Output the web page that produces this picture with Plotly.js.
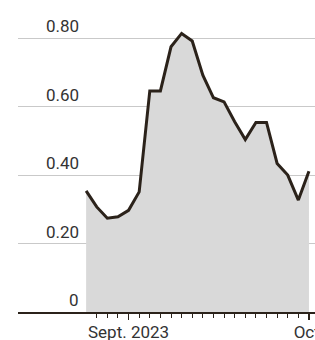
<!DOCTYPE html>
<html>
<head>
<meta charset="utf-8">
<script src="https://cdn.plot.ly/plotly-3.0.1.min.js"></script>
<style>
html,body{margin:0;padding:0;background:#fff;overflow:hidden;}
#chart{width:315px;height:340px;}
</style>
</head>
<body>
<div id="chart"></div>
<script>
// Data
var dayIndex = [0,1,2,3,4,5,6,7,8,9,10,11,12,13,14,15,16,17,18,19,20,21];
var values = [0.354,0.307,0.274,0.278,0.297,0.351,0.646,0.646,0.775,0.814,0.792,0.692,0.626,0.614,0.556,0.504,0.554,0.554,0.434,0.400,0.327,0.411];
var minorTickVals = [1,2,3,4,5,6,7,8,9,10,11,12,13,14,15,16,17,18,19,20,21];
var majorTickVals = [4,21];
var majorTickText = ['Sept. 2023','Oct.'];
var yGridVals = [0.2,0.4,0.6,0.8];
var yLabelVals = [0,0.2,0.4,0.6,0.8];
var yLabelText = ['0','0.20','0.40','0.60','0.80'];

var FONT = 'Roboto, "Noto Sans", sans-serif';
var TEXT = '#333333';
var INK = '#2b221a';

var annotations = yLabelVals.map(function(v,i){
  return {
    xref:'x', yref:'y', x:-0.47, y:v,
    text:yLabelText[i], showarrow:false,
    xanchor:'right', yanchor:'bottom', yshift:0,
    font:{family:FONT,size:17,color:TEXT}
  };
});

var trace = {
  x: dayIndex, y: values,
  type:'scatter', mode:'lines',
  line:{color:INK,width:3},
  fill:'tozeroy', fillcolor:'#d9d9d9',
  hoverinfo:'skip'
};

var layout = {
  width:315, height:340,
  margin:{l:18,r:0,t:4,b:28},
  paper_bgcolor:'#ffffff', plot_bgcolor:'rgba(0,0,0,0)',
  showlegend:false,
  xaxis:{
    range:[-6.42,21.57],
    showgrid:false, zeroline:false,
    showline:true, linecolor:INK, linewidth:2,
    tickmode:'array', tickvals:majorTickVals, ticktext:majorTickText,
    ticks:'outside', ticklen:6, tickwidth:1.5, tickcolor:INK,
    tickfont:{family:FONT,size:17,color:TEXT},
    ticklabeloverflow:'allow',
    ticklabelstandoff:-2,
    minor:{tickmode:'array', tickvals:minorTickVals, ticks:'outside', ticklen:4, tickwidth:1, tickcolor:INK, showgrid:false},
    fixedrange:true
  },
  yaxis:{
    range:[0,0.9],
    tickmode:'array', tickvals:yGridVals,
    showticklabels:false, ticks:'',
    showgrid:true, gridcolor:'#c9c9c9', gridwidth:1.2,
    zeroline:false, showline:false,
    fixedrange:true
  },
  annotations:annotations
};

Plotly.newPlot('chart',[trace],layout,{displayModeBar:false,staticPlot:true});
</script>
</body>
</html>
